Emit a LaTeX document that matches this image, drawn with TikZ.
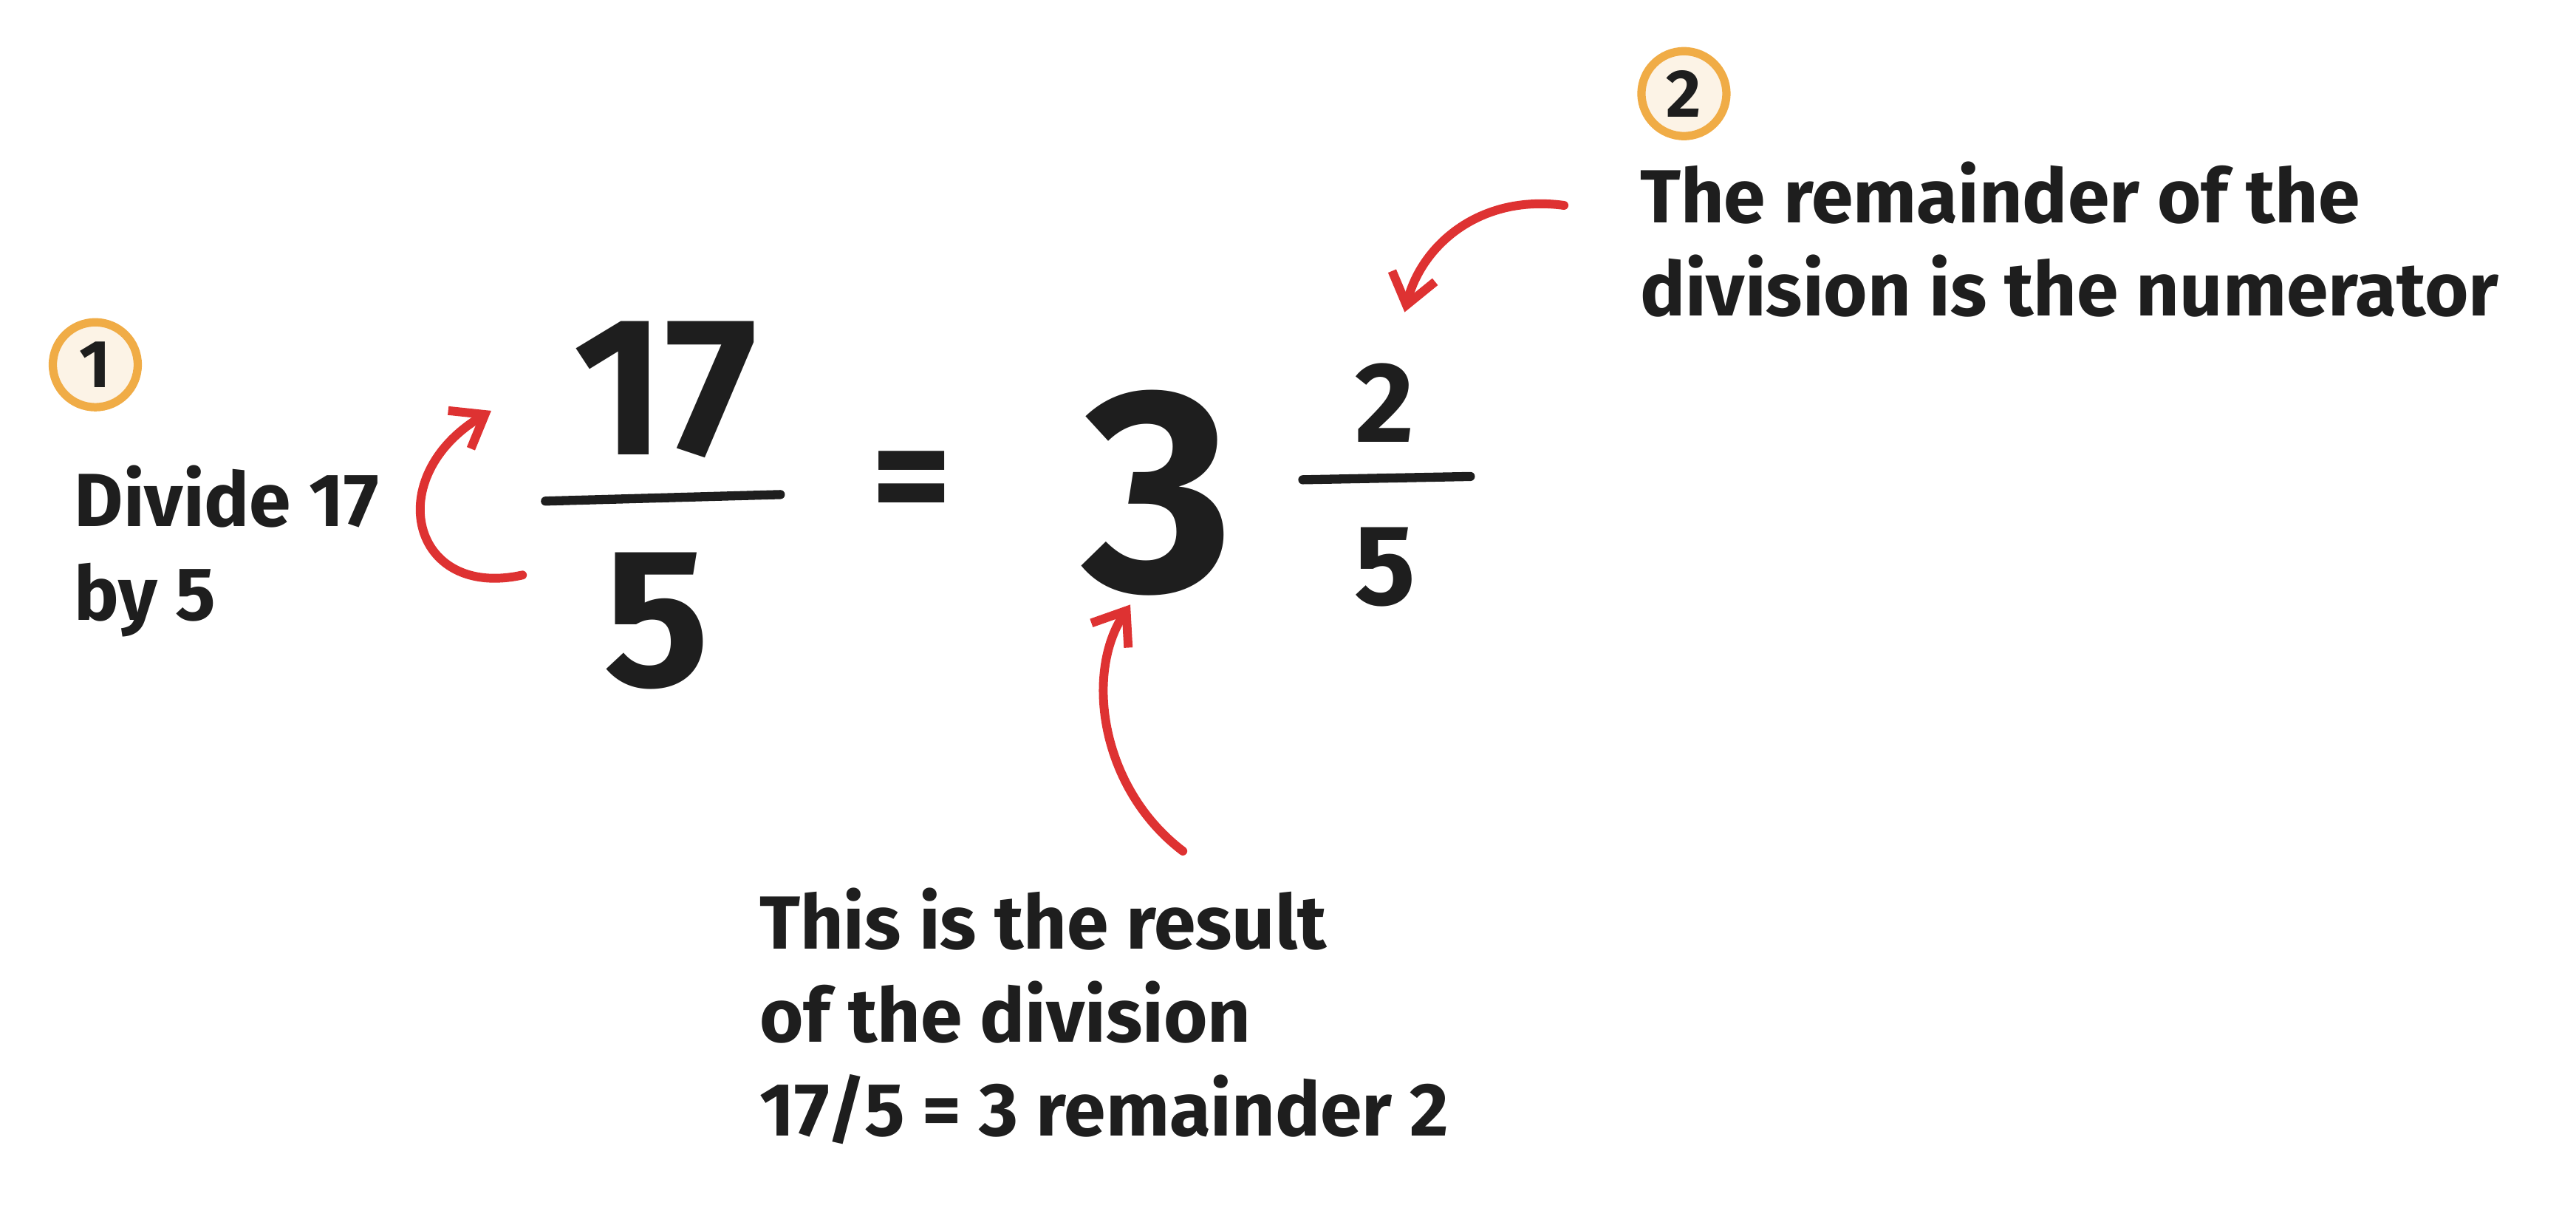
\documentclass[tikz,border=0pt]{standalone}
\usepackage{fontspec}
\setmainfont{Fira Sans}
\usetikzlibrary{positioning,arrows.meta}
\definecolor{markred}{RGB}{222,50,50}
\definecolor{ringorange}{RGB}{240,172,70}
\definecolor{ringfill}{RGB}{252,243,230}
\definecolor{inkblack}{RGB}{30,30,30}
\tikzset{
  note/.style={font=\fontsize{29}{36}\selectfont\bfseries, text=inkblack, align=left, inner sep=0pt},
  badge/.style={circle, draw=ringorange, fill=ringfill, line width=3.2pt, minimum size=1.15cm, inner sep=0pt, font=\fontsize{26}{26}\selectfont\bfseries, text=inkblack},
  bigdigit/.style={font=\fontsize{76}{76}\selectfont\bfseries, text=inkblack, inner sep=0pt},
  smalldigit/.style={font=\fontsize{44}{44}\selectfont\bfseries, text=inkblack, inner sep=0pt},
  fracbar/.style={line width=3.5pt, inkblack, line cap=round},
  pointer/.style={markred, line width=3.4pt, line cap=round, -{Straight Barb[length=4mm,width=6mm]}}
}
\begin{document}
\begin{tikzpicture}[x=0.02224cm, y=-0.02224cm]
  \useasboundingbox (0,0) rectangle (1568,733);
  % step one
  \node[badge] (one) at (58,222) {1};
  \node[note, anchor=north west] (divtext) at (45,283) {Divide 17\\by 5};
  % left fraction
  \node[bigdigit] (num) at (405,237) {17};
  \coordinate (barL) at (332,305);
  \coordinate (barR) at (475,301);
  \draw[fracbar] (barL) -- (barR);
  \node[bigdigit] (den) at (400,378) {5};
  \node[font=\fontsize{60}{60}\selectfont\bfseries, text=inkblack] (eq) at (555,298) {=};
  % mixed number
  \node[font=\fontsize{112}{112}\selectfont\bfseries, text=inkblack, inner sep=0pt] (whole) at (705,300) {3};
  \node[smalldigit] (rnum) at (843,245) {2};
  \coordinate (sbarL) at (793,292);
  \coordinate (sbarR) at (895,290);
  \draw[fracbar] (sbarL) -- (sbarR);
  \node[smalldigit] (rden) at (843,345) {5};
  % step two
  \node[badge] (two) at (1025,57) {2};
  \node[note, anchor=north west] (remtext) at (998,98) {The remainder of the\\division is the numerator};
  % result text
  \node[note, anchor=north west] (restext) at (462,540) {This is the result\\of the division\\17/5 = 3 remainder 2};
  % arrows
  \coordinate (a1s) at (318,350);
  \coordinate (a1e) at (299,250);
  \draw[pointer] (a1s) .. controls (250,365) and (232,290) .. (a1e);
  \coordinate (a2s) at (720,518);
  \coordinate (a2e) at (688,368);
  \draw[pointer] (a2s) .. controls (670,480) and (660,410) .. (a2e);
  \coordinate (a3s) at (952,125);
  \coordinate (a3e) at (855,190);
  \draw[pointer] (a3s) .. controls (900,118) and (865,150) .. (a3e);
\end{tikzpicture}
\end{document}
